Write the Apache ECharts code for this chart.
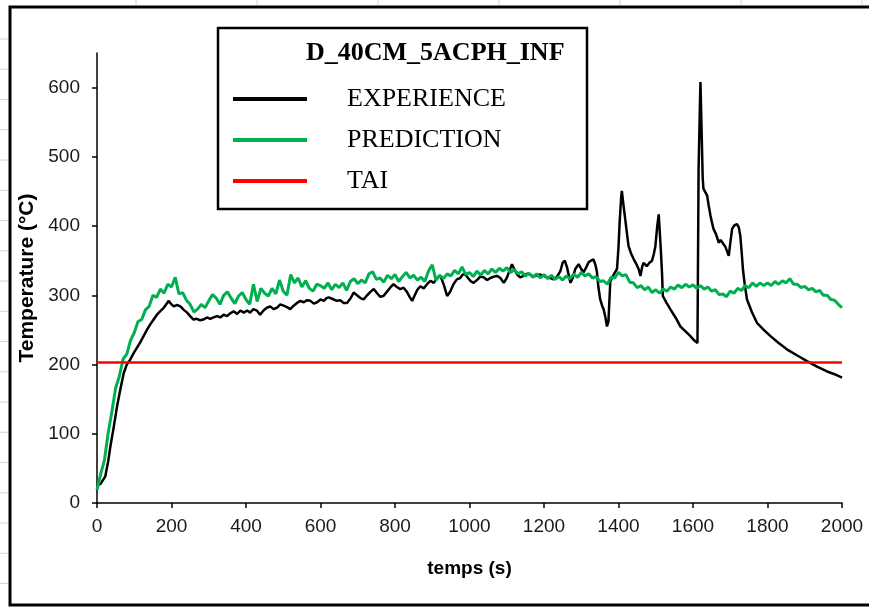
<!DOCTYPE html>
<html>
<head>
<meta charset="utf-8">
<script src="https://cdn.jsdelivr.net/npm/echarts@6/dist/echarts.min.js"></script>
<style>html,body{margin:0;padding:0;background:#fff}#c{width:869px;height:608px}</style>
</head>
<body>
<div id="c"></div>
<script>
// ---- data ----
const chartTitle = 'D_40CM_5ACPH_INF';
const seriesNames = ['EXPERIENCE', 'PREDICTION', 'TAI'];
const xTicks = [0, 200, 400, 600, 800, 1000, 1200, 1400, 1600, 1800, 2000];
const yTicks = [0, 100, 200, 300, 400, 500, 600];

// EXPERIENCE (black) : time (s) and temperature (°C)
const expTime = [0,10,22,30,36,45,54,63,72,80,89,98,107,116,125,134,143,152,161,170,179,186,192,198,206,215,224,233,242,250,259,268,277,286,295,304,313,322,331,340,349,358,367,376,385,394,403,411,420,429,438,447,456,465,474,483,492,501,510,519,528,537,546,555,564,573,582,591,600,609,616,622,631,644,653,662,671,680,689,698,707,716,725,734,743,752,760,769,778,787,796,805,814,823,832,840,846,853,860,868,877,886,895,904,913,922,931,940,948,957,966,975,982,989,996,1004,1011,1020,1029,1038,1047,1056,1065,1074,1083,1092,1100,1107,1114,1120,1128,1136,1145,1154,1163,1172,1181,1190,1199,1208,1217,1226,1235,1244,1250,1256,1262,1268,1271,1277,1284,1293,1300,1306,1313,1320,1326,1333,1338,1342,1346,1351,1356,1360,1365,1369,1373,1378,1387,1396,1400,1403,1407,1409,1413,1418,1423,1427,1434,1441,1448,1454,1459,1463,1467,1472,1476,1483,1490,1495,1499,1504,1508,1511,1514,1517,1519,1529,1539,1553,1566,1580,1593,1603,1612,1615,1618,1620,1623,1626,1628,1633,1638,1642,1647,1651,1655,1662,1669,1674,1678,1687,1696,1700,1705,1711,1718,1723,1727,1731,1734,1739,1745,1758,1772,1790,1808,1830,1852,1880,1906,1933,1960,1980,2000];
const expTemp = [25,28,38,60,82,110,140,165,188,200,207,216,224,232,241,250,258,265,272,277,282,287,292,288,284,286,284,279,275,270,265,266,264,265,268,266,268,270,268,272,270,274,277,273,278,275,278,275,280,278,272,278,282,284,280,282,287,285,283,280,285,289,292,290,293,292,288,290,294,292,296,297,295,292,293,289,289,295,304,300,296,294,300,305,309,303,298,299,305,311,316,312,309,311,305,297,292,300,308,313,310,316,321,318,325,328,315,299,305,316,323,325,330,330,325,320,318,322,327,326,322,325,327,328,325,318,325,335,345,338,330,326,328,331,330,327,329,330,328,326,325,323,327,335,347,350,340,325,318,325,338,345,338,333,340,348,350,352,344,334,312,294,285,280,268,255,262,320,330,338,370,405,440,451,432,410,388,371,360,352,345,338,328,340,347,345,342,347,350,360,371,400,417,390,362,330,299,289,280,268,255,248,241,235,231,482,560,608,540,470,454,455,444,430,415,405,396,388,376,380,381,370,357,375,396,401,403,398,386,360,338,315,294,276,260,250,241,231,222,213,205,197,190,186,181];

// PREDICTION (green) : one value every 10 s from 0 to 2000 s
const predStart = 0;
const predStep = 10;
const predTemp = [19,42,62,101,132,166,183,208,215,235,246,262,265,279,284,300,297,309,303,316,312,326,302,304,293,287,276,280,287,282,292,301,296,287,300,305,296,288,299,304,294,287,316,291,310,303,299,310,302,322,306,300,330,318,325,312,321,310,306,316,314,310,318,308,316,311,318,307,320,324,317,322,318,331,334,323,325,319,329,324,330,320,327,333,325,329,322,326,320,335,344,322,329,324,331,328,336,331,341,330,333,327,335,329,336,331,338,333,339,335,340,333,337,331,334,328,332,326,331,325,330,324,329,323,327,322,328,324,331,326,333,328,331,325,327,320,321,316,326,325,333,328,330,319,318,311,314,308,312,304,308,303,309,306,312,309,315,311,316,312,315,310,314,309,312,306,308,301,302,298,306,303,310,307,314,311,318,313,318,314,318,314,320,316,321,318,324,316,316,311,313,308,310,305,307,300,300,294,293,287,282];

// TAI (red) : constant level
const taiTime = [0, 2000];
const taiTemp = [203, 203];

// ---- build ----
const zip = (a, b) => a.map((v, i) => [v, b[i]]);
const expData = zip(expTime, expTemp);
const predData = predTemp.map((v, i) => [predStart + i * predStep, v]);
const taiData = zip(taiTime, taiTemp);

const sans = '"Liberation Sans", Arial, sans-serif';
const serif = '"Liberation Serif", "Times New Roman", serif';
const colors = ['#000000', '#00B050', '#FF0000'];

const graphics = [
  // outer chart frame (its right edge lies outside the picture)
  { type: 'rect', z: 0, shape: { x: 10, y: 7, width: 870, height: 598 }, style: { fill: 'none', stroke: '#000', lineWidth: 3 } },
  { type: 'rect', z: 1, shape: { x: 218, y: 28, width: 369, height: 181 }, style: { fill: '#fff', stroke: '#000', lineWidth: 2.5 } }
];
// spreadsheet cell lines visible outside the frame
[136, 257, 378, 499, 620, 741, 862].forEach(function (x) {
  graphics.push({ type: 'line', z: 0, shape: { x1: x, y1: 0, x2: x, y2: 5 }, style: { stroke: '#d4d4d4', lineWidth: 1 } });
});
for (let k = 0; k < 19; k++) {
  const y = 39 + 30.25 * k;
  graphics.push({ type: 'line', z: 0, shape: { x1: 0, y1: y, x2: 8, y2: y }, style: { stroke: '#d4d4d4', lineWidth: 1 } });
}

const plain = v => String(v);

const chart = echarts.init(document.getElementById('c'), null, { renderer: 'canvas' });
chart.setOption({
  animation: false,
  backgroundColor: '#ffffff',
  title: {
    text: chartTitle, left: 306, top: 40, padding: 0,
    textStyle: { fontFamily: serif, fontWeight: 'bold', fontSize: 26, color: '#000' }
  },
  legend: {
    data: seriesNames, orient: 'vertical', left: 233, top: 86, padding: 0,
    icon: 'rect', itemWidth: 74, itemHeight: 4, itemGap: 15, selectedMode: false, z: 10,
    textStyle: { fontFamily: serif, fontSize: 26, color: '#000', lineHeight: 24, padding: [0, 0, 0, 35] }
  },
  graphic: graphics,
  grid: { left: 97, right: 27, top: 53, bottom: 105 },
  xAxis: {
    type: 'value', min: 0, max: 2000, interval: 200,
    name: 'temps (s)', nameLocation: 'middle', nameGap: 56,
    nameTextStyle: { fontFamily: sans, fontWeight: 'bold', fontSize: 19, color: '#000' },
    axisLine: { onZero: false, lineStyle: { color: '#000', width: 1.5 } },
    axisTick: { inside: false, length: 5, lineStyle: { color: '#000', width: 1.5 }, customValues: xTicks },
    axisLabel: { fontFamily: sans, fontSize: 19, color: '#1a1a1a', margin: 14, customValues: xTicks, formatter: plain },
    splitLine: { show: false }
  },
  yAxis: {
    type: 'value', min: 0, max: 650, interval: 100,
    name: 'Temperature (°C)', nameLocation: 'middle', nameGap: 56, nameRotate: 90,
    nameTextStyle: { fontFamily: sans, fontWeight: 'bold', fontSize: 21, color: '#000' },
    axisLine: { show: true, onZero: false, lineStyle: { color: '#000', width: 1.5 } },
    axisTick: { show: true, inside: false, length: 5, lineStyle: { color: '#000', width: 1.5 }, customValues: yTicks },
    axisLabel: { fontFamily: sans, fontSize: 19, color: '#1a1a1a', margin: 17, customValues: yTicks, formatter: plain },
    splitLine: { show: false }
  },
  series: [
    { name: seriesNames[0], type: 'line', data: expData, showSymbol: false, symbol: 'none', color: colors[0], lineStyle: { color: colors[0], width: 2.5 }, z: 3 },
    { name: seriesNames[1], type: 'line', data: predData, showSymbol: false, symbol: 'none', color: colors[1], lineStyle: { color: colors[1], width: 3 }, z: 4 },
    { name: seriesNames[2], type: 'line', data: taiData, showSymbol: false, symbol: 'none', color: colors[2], lineStyle: { color: colors[2], width: 2.5 }, z: 5 }
  ]
});
</script>
</body>
</html>
